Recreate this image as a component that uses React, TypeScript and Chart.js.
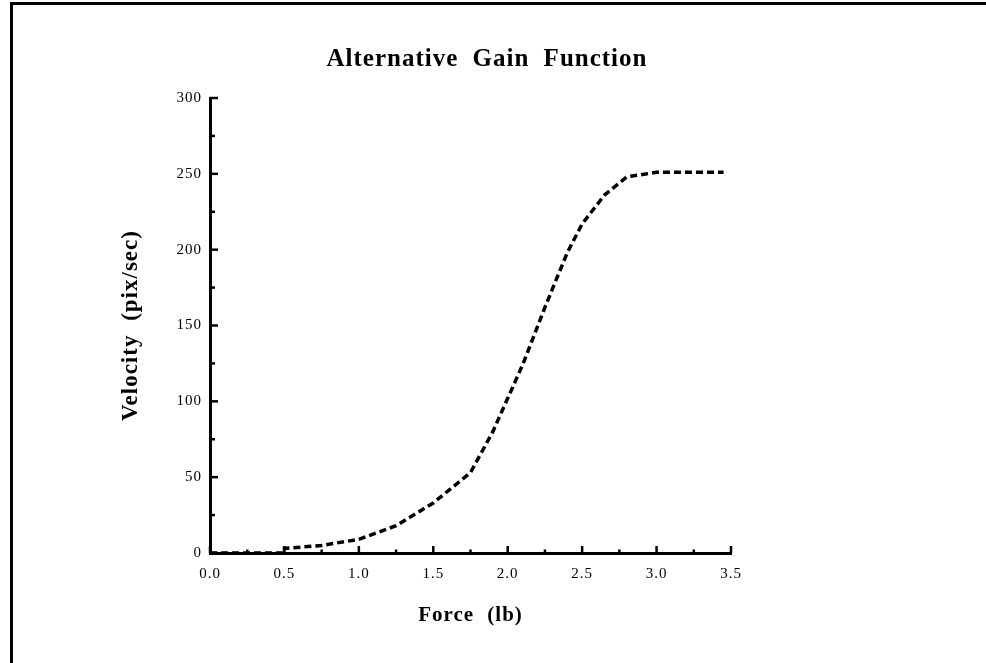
import React, { useEffect, useRef } from 'react';
import { Chart, registerables } from 'chart.js';

Chart.register(...registerables);

// Force (lb)
const forceLb = [0, 0.25, 0.5, 0.5, 0.75, 1.0, 1.25, 1.5, 1.75, 1.9, 2.0, 2.1, 2.25, 2.4, 2.5, 2.65, 2.8, 3.0, 3.25, 3.45];
// Velocity (pix/sec)
const velocityPixSec = [0, 0, 0, 3, 5, 9, 18, 33, 53, 80, 102, 124, 162, 198, 217, 236, 248, 251, 251, 251];

const xTickLabels = ['0.0', '0.5', '1.0', '1.5', '2.0', '2.5', '3.0', '3.5'];
const yTickLabels = ['0', '50', '100', '150', '200', '250', '300'];

const chartTitle = 'Alternative Gain Function';
const xAxisTitle = 'Force (lb)';
const yAxisTitle = 'Velocity (pix/sec)';

const SERIF = "'Liberation Serif', 'DejaVu Serif', serif";

const isMajor = (v: number, step: number) => Math.abs(v / step - Math.round(v / step)) < 1e-6;

const applySpacing = (ctx: any) => {
  ctx.letterSpacing = '1px';
  ctx.wordSpacing = '7px';
};

const spacingPlugin = {
  id: 'spacing',
  beforeLayout(chart: any) { applySpacing(chart.ctx); },
  beforeDraw(chart: any) { applySpacing(chart.ctx); },
};

const tickMarksPlugin = {
  id: 'tickMarks',
  afterDatasetsDraw(chart: any) {
    const ctx = chart.ctx;
    const xs = chart.scales.x;
    const ys = chart.scales.y;
    const { left, bottom } = chart.chartArea;
    ctx.save();
    ctx.strokeStyle = '#000';
    ctx.lineWidth = 2.5;
    ctx.setLineDash([]);
    xs.ticks.forEach((t: any) => {
      const px = xs.getPixelForValue(t.value);
      const len = isMajor(t.value, 0.5) ? 7 : 3.5;
      ctx.beginPath();
      ctx.moveTo(px, bottom);
      ctx.lineTo(px, bottom - len);
      ctx.stroke();
    });
    ys.ticks.forEach((t: any) => {
      const py = ys.getPixelForValue(t.value);
      const len = isMajor(t.value, 50) ? 8 : 5;
      ctx.beginPath();
      ctx.moveTo(left, py);
      ctx.lineTo(left + len, py);
      ctx.stroke();
    });
    ctx.restore();
  },
};

export default function App() {
  const canvasRef = useRef<HTMLCanvasElement | null>(null);

  useEffect(() => {
    const canvas = canvasRef.current;
    if (!canvas) return;
    const points = forceLb.map((f, i) => ({ x: f, y: velocityPixSec[i] }));
    const chart = new Chart(canvas, {
      type: 'line',
      data: {
        datasets: [
          {
            label: 'Gain',
            data: points,
            borderColor: '#000',
            borderWidth: 3.5,
            borderDash: [7, 4],
            pointRadius: 0,
            tension: 0,
            fill: false,
            clip: false as any,
          },
        ],
      },
      options: {
        animation: false,
        responsive: false,
        events: [],
        layout: { padding: { left: 0, right: 12, top: 0, bottom: 0 } },
        plugins: {
          legend: { display: false },
          tooltip: { enabled: false },
          title: {
            display: true,
            text: chartTitle,
            color: '#000',
            font: { family: SERIF, size: 25, weight: 'bold' },
            padding: { top: 45, bottom: 23 },
          },
        },
        scales: {
          x: {
            type: 'linear',
            position: 'bottom',
            min: 0,
            max: 3.5,
            grid: { display: false, drawTicks: false },
            border: { display: true, color: '#000', width: 3 },
            ticks: {
              stepSize: 0.25,
              autoSkip: false,
              maxRotation: 0,
              padding: 12,
              color: '#000',
              font: { family: SERIF, size: 15 },
              callback: (v: any) => (isMajor(Number(v), 0.5) ? xTickLabels[Math.round(Number(v) / 0.5)] : ''),
            },
            title: {
              display: true,
              text: xAxisTitle,
              color: '#000',
              font: { family: SERIF, size: 21, weight: 'bold' },
              padding: { top: 0, bottom: 35 },
            },
            afterFit: (s: any) => { s.height = 110; },
          },
          y: {
            type: 'linear',
            position: 'left',
            min: 0,
            max: 300,
            grid: { display: false, drawTicks: false },
            border: { display: true, color: '#000', width: 3 },
            ticks: {
              stepSize: 25,
              autoSkip: false,
              padding: 8,
              color: '#000',
              font: { family: SERIF, size: 15 },
              callback: (v: any) => (isMajor(Number(v), 50) ? yTickLabels[Math.round(Number(v) / 50)] : ''),
            },
            title: {
              display: true,
              text: yAxisTitle,
              color: '#000',
              font: { family: SERIF, size: 23, weight: 'bold' },
              padding: { top: 117, bottom: 0 },
            },
            afterFit: (s: any) => { s.width = 210; },
          },
          spacer: {
            type: 'linear',
            position: 'right',
            display: true,
            grid: { display: false, drawTicks: false },
            border: { display: false },
            ticks: { display: false },
            afterFit: (s: any) => { s.width = 243; },
          },
        },
      },
      plugins: [spacingPlugin, tickMarksPlugin],
    } as any);
    return () => chart.destroy();
  }, []);

  return (
    <div style={{ position: 'fixed', left: 0, top: 0, width: 986, height: 663, background: '#fff' }}>
      <canvas ref={canvasRef} width={986} height={663} style={{ display: 'block', width: 986, height: 663 }} />
      <div
        style={{
          position: 'absolute',
          left: 10,
          top: 2,
          right: 0,
          bottom: 0,
          borderTop: '3px solid #000',
          borderLeft: '3px solid #000',
          pointerEvents: 'none',
        }}
      />
    </div>
  );
}
